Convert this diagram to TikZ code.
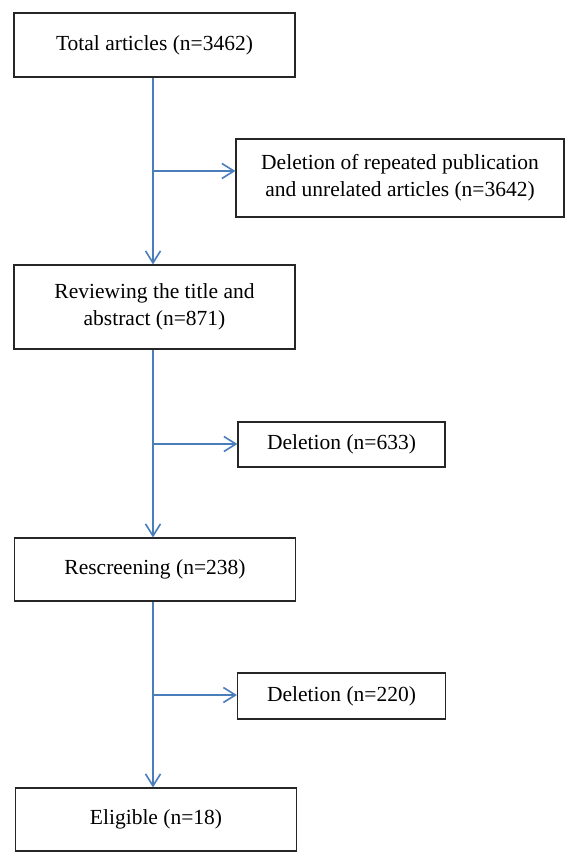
\documentclass[tikz,border=0pt]{standalone}
\usepackage{fontspec}
\setmainfont{Liberation Serif}
\usetikzlibrary{arrows.meta}
\definecolor{flowblue}{HTML}{4A7EBB}
\tikzset{
  box/.style={draw=black!85, line width=1.2pt, inner sep=0pt, font=\fontsize{21.5}{27}\selectfont, align=center},
  flow/.style={draw=flowblue, line width=1.6pt, -{Straight Barb[length=12pt,width=15pt,line width=1.6pt]}}
}
\begin{document}
\begin{tikzpicture}[x=1pt,y=-1pt]
\useasboundingbox (0,0) rectangle (579,866);
\node[box, minimum width=281pt, minimum height=64pt] (total) at (154.5,45) {Total articles (n=3462)};
\node[box, minimum width=328pt, minimum height=78pt] (del1) at (400,178) {Deletion of repeated publication\\and unrelated articles (n=3642)};
\node[box, minimum width=281pt, minimum height=84pt] (review) at (154.5,307) {Reviewing the title and\\abstract (n=871)};
\node[box, minimum width=207pt, minimum height=45pt] (del2) at (341.5,444.5) {Deletion (n=633)};
\node[box, minimum width=281pt, minimum height=63pt] (rescreen) at (155,569.5) {Rescreening (n=238)};
\node[box, minimum width=208pt, minimum height=46pt] (del3) at (341.5,696) {Deletion (n=220)};
\node[box, minimum width=281pt, minimum height=63pt] (elig) at (156,819.5) {Eligible (n=18)};
\coordinate (b1) at (153,171);
\coordinate (b2) at (153,444);
\coordinate (b3) at (153,695);
\draw[flow] (total.south -| b1) -- (review.north -| b1);
\draw[flow] (b1) -- (b1 -| del1.west);
\draw[flow] (review.south -| b2) -- (rescreen.north -| b2);
\draw[flow] (b2) -- (b2 -| del2.west);
\draw[flow] (rescreen.south -| b3) -- (elig.north -| b3);
\draw[flow] (b3) -- (b3 -| del3.west);
\end{tikzpicture}
\end{document}
